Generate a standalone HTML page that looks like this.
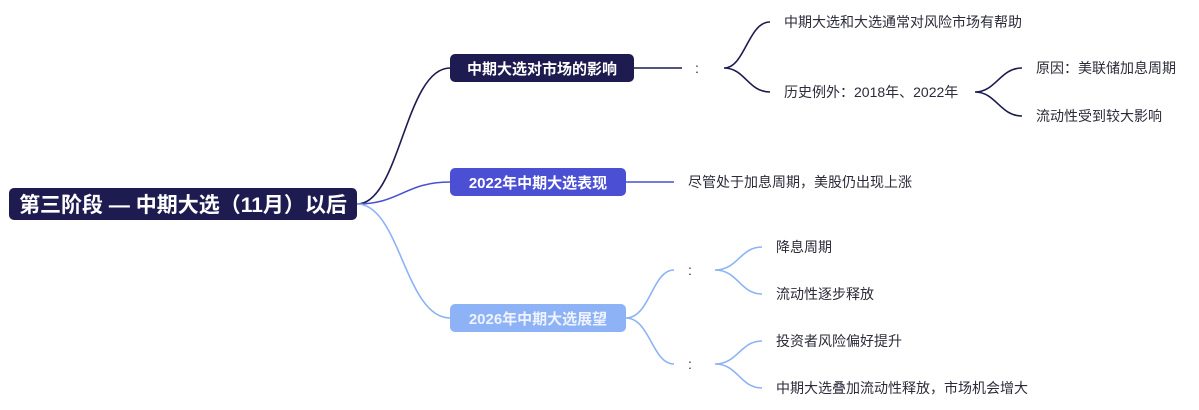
<!DOCTYPE html>
<html><head><meta charset="utf-8"><style>
body{margin:0;width:1199px;height:410px;background:#fff;position:relative;overflow:hidden;font-family:"Liberation Sans","Noto Sans CJK SC",sans-serif}
.n{position:absolute;border-radius:5px;color:#fff;font-weight:bold;display:flex;align-items:center;justify-content:center;box-sizing:border-box}
.t{position:absolute;font-size:14px;color:#2b2b3a;line-height:20px;transform:translateY(-10px);white-space:nowrap}
svg{position:absolute;left:0;top:0}
</style></head><body>
<svg width="1199" height="410" fill="none" stroke-width="1.6">
<path d="M357 204 C400 204 405 68 450 68" stroke="#1d1b4f"/>
<path d="M357 204 C400 204 405 182 450 182" stroke="#4b4fd4"/>
<path d="M357 204 C400 204 405 318 450 318" stroke="#8db2f5"/>
<path d="M634 68 H682" stroke="#1d1b4f"/>
<path d="M724 68 C745 68 748 22 770 22 M724 68 C745 68 748 92 770 92" stroke="#1d1b4f"/>
<path d="M975 92 C996 92 1000 68 1022 68 M975 92 C996 92 1000 116 1022 116" stroke="#1d1b4f"/>
<path d="M626 182 H674" stroke="#4b4fd4"/>
<path d="M626 318 C650 318 652 270 674 270 M626 318 C650 318 652 364 674 364" stroke="#8db2f5"/>
<path d="M715 270 C738 270 740 247 762 247 M715 270 C738 270 740 294 762 294" stroke="#8db2f5"/>
<path d="M715 364 C738 364 740 341 762 341 M715 364 C738 364 740 388 762 388" stroke="#8db2f5"/>
</svg>
<div class="n" style="left:9px;top:188px;width:348px;height:32px;background:#1d1b4f;font-size:21px">第三阶段 — 中期大选（11月）以后</div>
<div class="n" style="left:450px;top:54px;width:184px;height:28px;background:#1d1b4f;font-size:15px">中期大选对市场的影响</div>
<div class="n" style="left:450px;top:168px;width:176px;height:28px;background:#4b4fd4;font-size:15px">2022年中期大选表现</div>
<div class="n" style="left:450px;top:304px;width:176px;height:28px;background:#8db2f5;font-size:15px;color:#eef3ff">2026年中期大选展望</div>
<div class="t" style="left:695px;top:68px">:</div>
<div class="t" style="left:784px;top:22px">中期大选和大选通常对风险市场有帮助</div>
<div class="t" style="left:784px;top:92px">历史例外：2018年、2022年</div>
<div class="t" style="left:1036px;top:68px">原因：美联储加息周期</div>
<div class="t" style="left:1036px;top:116px">流动性受到较大影响</div>
<div class="t" style="left:688px;top:182px">尽管处于加息周期，美股仍出现上涨</div>
<div class="t" style="left:688px;top:270px">:</div>
<div class="t" style="left:688px;top:364px">:</div>
<div class="t" style="left:776px;top:247px">降息周期</div>
<div class="t" style="left:776px;top:294px">流动性逐步释放</div>
<div class="t" style="left:776px;top:341px">投资者风险偏好提升</div>
<div class="t" style="left:776px;top:388px">中期大选叠加流动性释放，市场机会增大</div>
</body></html>
